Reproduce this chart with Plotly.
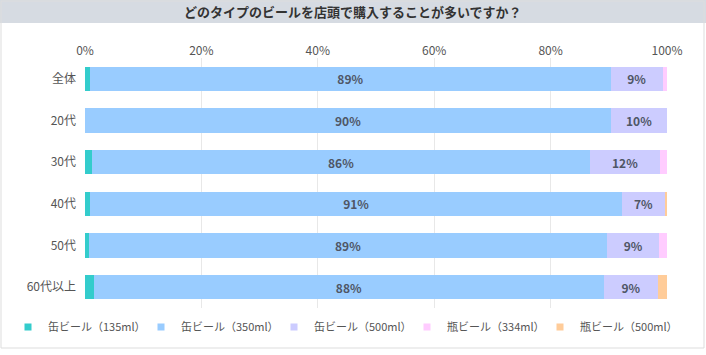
import plotly.graph_objects as go

categories = ["全体", "20代", "30代", "40代", "50代", "60代以上"]
series_names = ["缶ビール（135ml）", "缶ビール（350ml）", "缶ビール（500ml）", "瓶ビール（334ml）", "瓶ビール（500ml）"]
can_135 = [0.9, 0.0, 1.2, 0.9, 0.7, 1.5]
can_350 = [89.4, 90.4, 85.6, 91.4, 89.0, 87.7]
can_500 = [9.0, 9.6, 12.0, 7.3, 9.0, 9.2]
bottle_334 = [0.7, 0.0, 1.2, 0.0, 1.3, 0.0]
bottle_500 = [0.0, 0.0, 0.0, 0.4, 0.0, 1.6]
tick_vals = [0, 20, 40, 60, 80, 100]
tick_text = ["0%", "20%", "40%", "60%", "80%", "100%"]
title_text = "どのタイプのビールを店頭で購入することが多いですか？"

colors = ["#33cccc", "#99ccff", "#ccccff", "#ffccff", "#ffcc99"]
series = [can_135, can_350, can_500, bottle_334, bottle_500]
show_label = [False, True, True, False, False]

FONT = "Noto Sans CJK JP, Noto Sans, sans-serif"
W, H = 706, 355
L, R, T, B = 85, 39, 58, 47
pw = W - L - R
ph = H - T - B

fig = go.Figure()
for name, vals, col, lab in zip(series_names, series, colors, show_label):
    fig.add_trace(go.Bar(
        y=categories, x=vals, orientation="h", name=name,
        marker=dict(color=col, line=dict(width=0)),
        text=vals if lab else None,
        texttemplate="<b>%{x:.0f}%</b>" if lab else None,
        textposition="inside" if lab else "none",
        insidetextanchor="middle",
        textfont=dict(family=FONT, size=12, color="#4f5666"),
        showlegend=False, hoverinfo="skip",
        width=0.58,
    ))
    fig.add_trace(go.Scatter(
        x=[None], y=[None], mode="markers", name=name,
        marker=dict(symbol="square", size=7, color=col),
        showlegend=True,
    ))

fig.update_layout(
    width=W, height=H,
    margin=dict(l=L, r=R, t=T, b=B, autoexpand=False),
    barmode="stack",
    paper_bgcolor="white", plot_bgcolor="white",
    font=dict(family=FONT, size=12, color="#555555"),
    xaxis=dict(side="top", range=[0, 100], tickvals=tick_vals, ticktext=tick_text,
               showgrid=True, gridcolor="#e8e8e8", gridwidth=1, zeroline=False,
               showline=False, ticks="", tickfont=dict(size=12, color="#555555"),
               fixedrange=True),
    yaxis=dict(autorange="reversed", showgrid=False, zeroline=False, ticks="",
               ticklabelstandoff=8, tickfont=dict(size=12, color="#555555"),
               fixedrange=True),
    legend=dict(orientation="h", x=-77 / pw, xanchor="left", y=-19 / ph, yanchor="middle",
                entrywidth=88, entrywidthmode="pixels", itemwidth=30, traceorder="normal",
                font=dict(size=11, color="#555555"), bgcolor="rgba(0,0,0,0)"),
    showlegend=True,
)

# title band and outer border
fig.add_shape(type="rect", xref="paper", yref="paper",
              x0=-L / pw, x1=(W - L) / pw, y0=1 + (T - 23) / ph, y1=1 + T / ph,
              fillcolor="#d6dbe2", line=dict(width=0), layer="below")
fig.add_shape(type="rect", xref="paper", yref="paper",
              x0=(1 - L) / pw, x1=(W - L - 2) / pw, y0=-(B - 7) / ph, y1=1 + (T - 1) / ph,
              fillcolor="rgba(0,0,0,0)", line=dict(width=1, color="#dddddd"))
fig.add_annotation(text="<b>" + title_text + "</b>", xref="paper", yref="paper",
                   x=(W / 2 - L) / pw, y=1 + (T - 11.5) / ph, showarrow=False,
                   xanchor="center", yanchor="middle",
                   font=dict(family=FONT, size=13, color="#333333"))

fig.write_html("out.html", config={"displayModeBar": False},
               post_script="document.body.style.margin='0px';")
